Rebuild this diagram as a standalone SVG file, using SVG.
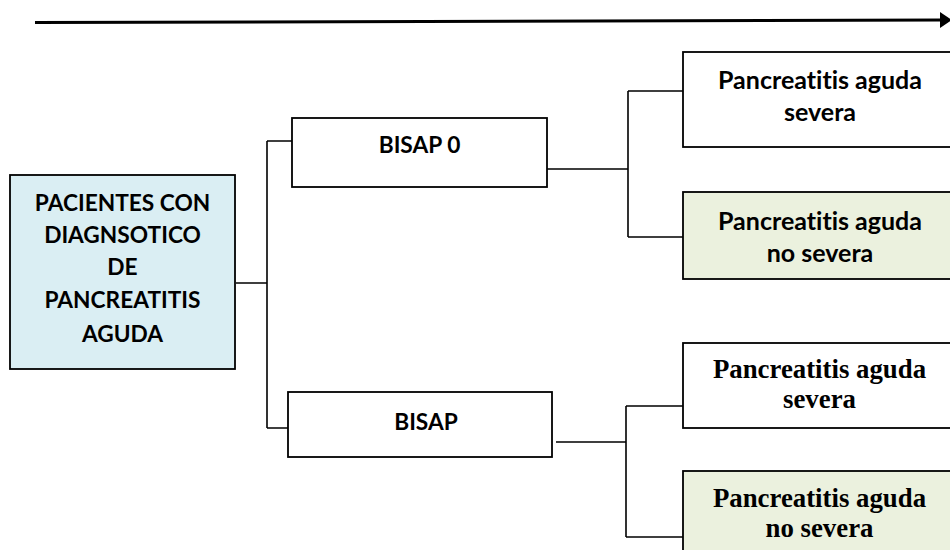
<svg xmlns="http://www.w3.org/2000/svg" width="950" height="550" viewBox="0 0 950 550">
<defs>
<style>
.box{stroke:#000;stroke-width:1.8}
.w{fill:#fff}
.blue{fill:#DAEEF3}
.green{fill:#EBF1DE}
.sans{font-family:Lato,"Open Sans","Liberation Sans",sans-serif;font-weight:bold;font-size:22.7px;fill:#000;text-anchor:middle;font-variant-ligatures:none}
.big{font-size:25px}
.serif{font-family:"Liberation Serif","Times New Roman",serif;font-weight:bold;font-size:26.8px;fill:#000;text-anchor:middle}
.conn{fill:none;stroke:#000;stroke-width:1.6}
</style>
<marker id="ah" viewBox="0 0 12 16" refX="2" refY="8" markerWidth="12" markerHeight="16" orient="auto" markerUnits="userSpaceOnUse">
<path d="M0,0 L12,8 L0,16 z" fill="#000"/>
</marker>
</defs>
<rect width="950" height="550" fill="#fff"/>
<g id="connectors">
<path d="M35 22.5 L942 20" fill="none" stroke="#000" stroke-width="3" marker-end="url(#ah)"/>
<path class="conn" d="M236 283 H267 M267 141 V428 M267 141 H292 M267 428 H292"/>
<path class="conn" d="M547 169 H628 M628 91 V237 M628 91 H683 M628 237 H683"/>
<path class="conn" d="M556 442 H626 M626 406 V537 M626 406 H683 M626 537 H683"/>
</g>
<g id="pacientes">
<rect class="box blue" x="10" y="175" width="225" height="194"/>
<text class="sans" x="122.5" y="210.7">PACIENTES CON</text>
<text class="sans" x="122.5" y="243.3">DIAGNSOTICO</text>
<text class="sans" x="122.5" y="275">DE</text>
<text class="sans" x="122.5" y="308.3">PANCREATITIS</text>
<text class="sans" x="122.5" y="341.7">AGUDA</text>
</g>
<g id="bisap0">
<rect class="box w" x="292" y="118" width="255" height="69"/>
<text class="sans" x="419.5" y="153">BISAP 0</text>
</g>
<g id="bisap">
<rect class="box w" x="288" y="392" width="264" height="65"/>
<text class="sans" x="426" y="430">BISAP</text>
</g>
<g id="severa1">
<rect class="box w" x="683" y="52" width="280" height="95"/>
<text class="sans big" x="820" y="89">Pancreatitis aguda</text>
<text class="sans big" x="820" y="121">severa</text>
</g>
<g id="nosevera1">
<rect class="box green" x="683" y="192" width="280" height="87"/>
<text class="sans big" x="820" y="229.5">Pancreatitis aguda</text>
<text class="sans big" x="820" y="261.5">no severa</text>
</g>
<g id="severa2">
<rect class="box w" x="683" y="343" width="280" height="85"/>
<text class="serif" x="819.5" y="378">Pancreatitis aguda</text>
<text class="serif" x="819.5" y="408">severa</text>
</g>
<g id="nosevera2">
<rect class="box green" x="683" y="471" width="280" height="100"/>
<text class="serif" x="819.5" y="507">Pancreatitis aguda</text>
<text class="serif" x="819.5" y="537">no severa</text>
</g>
</svg>
